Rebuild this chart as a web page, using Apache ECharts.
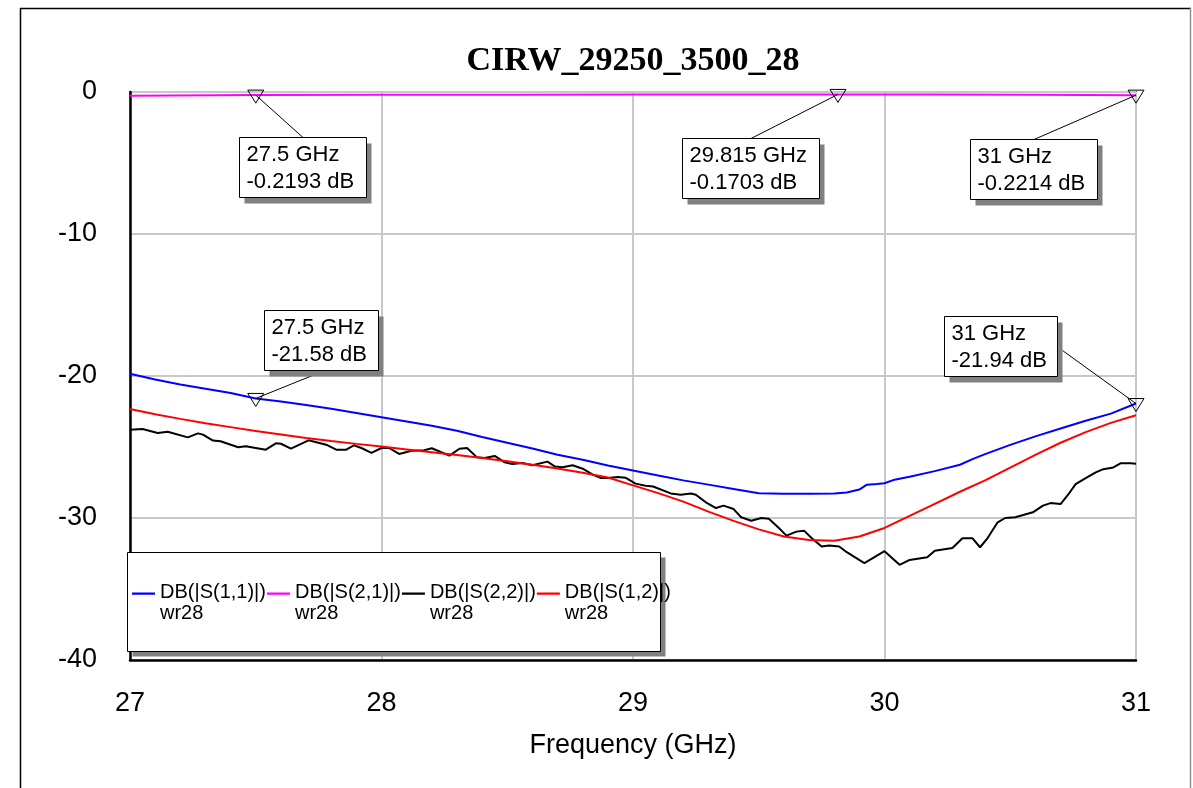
<!DOCTYPE html>
<html>
<head>
<meta charset="utf-8">
<script src="https://cdn.jsdelivr.net/npm/echarts@6/dist/echarts.min.js"></script>
<style>html,body{margin:0;padding:0;background:#fff}#c{width:1193px;height:788px}</style>
</head>
<body>
<div id="c"></div>
<script>
const titleText = 'CIRW_29250_3500_28';
const xAxisName = 'Frequency (GHz)';
const xTicks = [27, 28, 29, 30, 31];
const yTicks = [-40, -30, -20, -10, 0];
const seriesNames = ['DB(|S(1,1)|)', 'DB(|S(2,1)|)', 'DB(|S(2,2)|)', 'DB(|S(1,2)|)'];
const seriesSubLabel = 'wr28';

const s11Freq = [27.0,27.1,27.2,27.3,27.4,27.5,27.6,27.7,27.8,27.9,28.0,28.1,28.2,28.3,28.4,28.5,28.6,28.7,28.8,28.9,29.0,29.1,29.2,29.3,29.4,29.5,29.6,29.7,29.8,29.85,29.9,29.93,29.97,30.0,30.04,30.1,30.2,30.3,30.35,30.4,30.5,30.6,30.7,30.8,30.9,31.0];
const s11Db = [-19.84,-20.25,-20.6,-20.9,-21.2,-21.58,-21.8,-22.05,-22.3,-22.6,-22.9,-23.2,-23.5,-23.85,-24.3,-24.7,-25.1,-25.55,-25.9,-26.3,-26.65,-27.0,-27.35,-27.65,-27.95,-28.25,-28.3,-28.3,-28.27,-28.2,-28.0,-27.65,-27.6,-27.55,-27.3,-27.1,-26.7,-26.25,-25.85,-25.5,-24.85,-24.25,-23.7,-23.15,-22.65,-21.94];

const s21Freq = [27.0,27.5,28.0,28.5,29.0,29.5,29.815,30.2,30.6,31.0];
const s21Db = [-0.26,-0.2193,-0.2,-0.186,-0.178,-0.172,-0.1703,-0.18,-0.2,-0.2214];

const s22Freq = [27.00,27.05,27.11,27.15,27.23,27.27,27.29,27.33,27.36,27.43,27.46,27.54,27.58,27.60,27.64,27.71,27.78,27.82,27.86,27.89,27.92,27.96,28.00,28.03,28.07,28.12,28.17,28.20,28.27,28.31,28.34,28.38,28.41,28.45,28.49,28.52,28.56,28.60,28.66,28.69,28.72,28.76,28.80,28.84,28.87,28.90,28.94,28.97,29.01,29.05,29.08,29.15,29.19,29.23,29.25,29.29,29.33,29.36,29.40,29.43,29.47,29.51,29.54,29.58,29.61,29.65,29.68,29.71,29.75,29.78,29.82,29.85,29.92,30.00,30.03,30.06,30.10,30.17,30.20,30.27,30.31,30.35,30.38,30.41,30.45,30.48,30.52,30.59,30.63,30.66,30.70,30.73,30.76,30.80,30.84,30.87,30.91,30.94,30.98,31.00];
const s22Db = [-23.78,-23.73,-24.01,-23.92,-24.32,-24.04,-24.13,-24.55,-24.60,-25.02,-24.95,-25.19,-24.74,-24.77,-25.12,-24.53,-24.84,-25.19,-25.19,-24.88,-25.07,-25.42,-25.07,-25.07,-25.49,-25.26,-25.23,-25.09,-25.61,-25.12,-25.07,-25.73,-25.77,-25.63,-26.08,-26.20,-26.13,-26.29,-26.03,-26.38,-26.43,-26.29,-26.53,-26.95,-27.18,-27.18,-27.11,-27.16,-27.58,-27.73,-27.78,-28.27,-28.36,-28.27,-28.36,-28.90,-29.30,-29.13,-29.37,-29.95,-30.19,-30.00,-30.05,-30.70,-31.24,-30.96,-30.89,-31.41,-32.01,-31.94,-32.01,-32.41,-33.18,-32.34,-32.81,-33.30,-32.95,-32.76,-32.30,-32.11,-31.43,-31.43,-32.06,-31.41,-30.30,-30.00,-29.95,-29.60,-29.13,-28.95,-29.02,-28.36,-27.61,-27.19,-26.79,-26.56,-26.44,-26.14,-26.14,-26.18];

const s12Freq = [27.0,27.1,27.2,27.3,27.4,27.5,27.6,27.7,27.8,27.9,28.0,28.1,28.2,28.3,28.4,28.5,28.6,28.7,28.8,28.9,29.0,29.1,29.2,29.3,29.4,29.5,29.6,29.7,29.8,29.9,30.0,30.1,30.2,30.3,30.4,30.5,30.6,30.7,30.8,30.9,31.0];
const s12Db = [-22.33,-22.7,-23.02,-23.32,-23.6,-23.88,-24.12,-24.36,-24.58,-24.78,-24.97,-25.17,-25.37,-25.57,-25.78,-26.0,-26.25,-26.52,-26.82,-27.15,-27.7,-28.25,-28.85,-29.55,-30.2,-30.8,-31.3,-31.55,-31.6,-31.3,-30.7,-29.85,-29.0,-28.15,-27.35,-26.45,-25.55,-24.7,-23.95,-23.3,-22.76];

const markerFreq = [27.5, 29.815, 31, 27.5, 31];
const markerDb = [-0.2193, -0.1703, -0.2214, -21.58, -21.94];

// layout of marker label boxes (pixels relative to marker point)
const markerBox = [
  {dx: -16.5, dy: 42, w: 127, ax: 63.5, ay: 0},
  {dx: -155.5, dy: 44, w: 137, ax: 68.5, ay: 0},
  {dx: -166.5, dy: 44, w: 127, ax: 63.5, ay: 0},
  {dx: 8.5, dy: -88, w: 114, ax: 48, ay: 65},
  {dx: -192.5, dy: -88, w: 113, ax: 118, ay: 34}
];
const colors = ['#0000ff', '#ff00ff', '#000000', '#ff0000'];
const SANS = '"Liberation Sans", Arial, sans-serif';
const SERIF = '"Liberation Serif", "Times New Roman", serif';

function pairs(xs, ys) { return xs.map((x, i) => [x, ys[i]]); }

function renderMarker(params, api) {
  const i = params.dataIndex;
  const f = api.value(0), v = api.value(1);
  const p = api.coord([f, v]);
  const b = markerBox[i];
  const bx = Math.round(p[0] + b.dx) + 0.5, by = Math.round(p[1] + b.dy) + 0.5, bh = 60;
  return {
    type: 'group',
    children: [
      {type: 'line', shape: {x1: p[0], y1: p[1], x2: bx + b.ax, y2: by + b.ay}, style: {stroke: '#000', lineWidth: 1}},
      {type: 'polygon', shape: {points: [[p[0] - 8, p[1] - 5], [p[0] + 8, p[1] - 5], [p[0], p[1] + 8]]}, style: {fill: 'rgba(0,0,0,0)', stroke: '#000', lineWidth: 1}},
      {type: 'rect', shape: {x: bx + 5, y: by + 6, width: b.w, height: bh}, style: {fill: '#808080'}},
      {type: 'rect', shape: {x: bx, y: by, width: b.w, height: bh}, style: {fill: '#ffffff', stroke: '#000', lineWidth: 1}},
      {type: 'text', x: bx + 7, y: by + 4, style: {text: markerFreq[i] + ' GHz\n' + markerDb[i] + ' dB', fontSize: 22, fontFamily: SANS, fill: '#000', lineHeight: 26.7, verticalAlign: 'top', align: 'left'}}
    ]
  };
}

const chart = echarts.init(document.getElementById('c'), null, {renderer: 'canvas'});
const lineSeries = [
  [s11Freq, s11Db], [s21Freq, s21Db], [s22Freq, s22Db], [s12Freq, s12Db]
].map((d, k) => ({
  name: seriesNames[k],
  type: 'line',
  data: pairs(d[0], d[1]),
  showSymbol: false,
  symbol: 'none',
  color: colors[k],
  lineStyle: {color: colors[k], width: 2},
  z: 3,
  animation: false
}));

chart.setOption({
  animation: false,
  backgroundColor: '#ffffff',
  grid: {left: 130, right: 57, top: 92, bottom: 128, show: true, borderColor: '#000', borderWidth: 1.5, outerBoundsMode: 'none', containLabel: false},
  xAxis: {
    type: 'value', min: xTicks[0], max: xTicks[xTicks.length - 1], interval: 1,
    name: xAxisName, nameLocation: 'middle', nameGap: 72,
    nameTextStyle: {fontFamily: SANS, fontSize: 27, color: '#000'},
    axisLine: {show: true, onZero: false, lineStyle: {color: '#000', width: 2.5}},
    axisTick: {show: false},
    axisLabel: {fontFamily: SANS, fontSize: 27, color: '#000', margin: 30},
    splitLine: {show: true, lineStyle: {color: '#c8c8c8', width: 2}}
  },
  yAxis: {
    type: 'value', min: yTicks[0], max: yTicks[yTicks.length - 1], interval: 10,
    axisLine: {show: true, onZero: false, lineStyle: {color: '#000', width: 2.5}},
    axisTick: {show: false},
    axisLabel: {fontFamily: SANS, fontSize: 27, color: '#000', margin: 33},
    splitLine: {show: true, lineStyle: {color: '#c8c8c8', width: 2}}
  },
  legend: {
    data: seriesNames,
    left: 132, top: 582, orient: 'horizontal',
    itemGap: 1, itemWidth: 23, itemHeight: 21,
    icon: 'path://M0,0h23v2.2h-23zM0,21h0.01v0.01z',
    symbolKeepAspect: false,
    padding: 0,
    selectedMode: false,
    textStyle: {fontFamily: SANS, fontSize: 20, color: '#000', lineHeight: 21},
    formatter: name => name + '\n' + seriesSubLabel,
    z: 30
  },
  graphic: [
    {type: 'line', shape: {x1: 20.5, y1: 8, x2: 20.5, y2: 788}, style: {stroke: '#000', lineWidth: 1.5}, silent: true, z: 1},
    {type: 'line', shape: {x1: 20, y1: 8.5, x2: 1191, y2: 8.5}, style: {stroke: '#000', lineWidth: 1.5}, silent: true, z: 1},
    {type: 'line', shape: {x1: 1190.5, y1: 8, x2: 1190.5, y2: 788}, style: {stroke: '#909090', lineWidth: 1.5}, silent: true, z: 1},
    {type: 'text', x: 633, y: 61, style: {text: titleText, fontFamily: SERIF, fontWeight: 'bold', fontSize: 34, fill: '#000', align: 'center', verticalAlign: 'middle', textAlign: 'center', textVerticalAlign: 'middle'}, z: 10},
    {type: 'rect', shape: {x: 132.5, y: 557.5, width: 533, height: 99}, style: {fill: '#808080'}, z: 20},
    {type: 'rect', shape: {x: 127.5, y: 552.5, width: 533, height: 99}, style: {fill: '#ffffff', stroke: '#000', lineWidth: 1}, z: 21}
  ],
  series: lineSeries.concat([{
    name: 'markers',
    type: 'custom',
    renderItem: renderMarker,
    data: pairs(markerFreq, markerDb),
    encode: {x: 0, y: 1},
    clip: false,
    silent: true,
    z: 10,
    animation: false
  }])
});
</script>
</body>
</html>
